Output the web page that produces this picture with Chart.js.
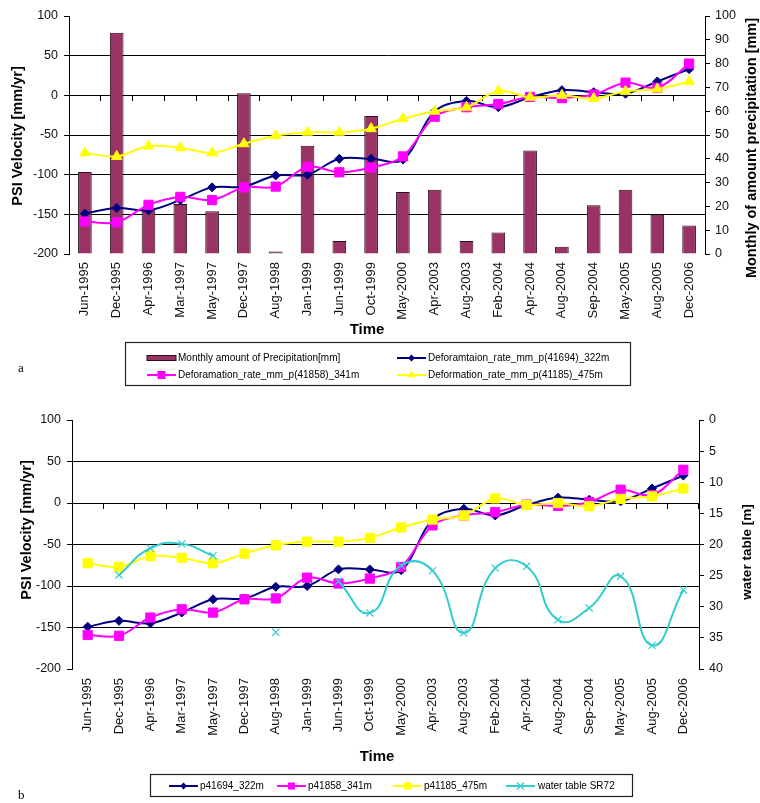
<!DOCTYPE html>
<html>
<head>
<meta charset="utf-8">
<script src="https://cdn.jsdelivr.net/npm/chart.js@4/dist/chart.umd.min.js"></script>
<style>
  html, body { margin: 0; padding: 0; background: #fff; }
  #wrap { position: relative; width: 760px; height: 803px; overflow: hidden; background: #fff; }
  canvas { position: absolute; left: 0; }
  #chartA { top: 0; }
  #chartB { top: 392px; }
</style>
</head>
<body>
<div id="wrap">
  <canvas id="chartA" width="760" height="392"></canvas>
  <canvas id="chartB" width="760" height="411"></canvas>
</div>
<script>
const categories = ['Jun-1995', 'Dec-1995', 'Apr-1996', 'Mar-1997', 'May-1997', 'Dec-1997', 'Aug-1998',
  'Jan-1999', 'Jun-1999', 'Oct-1999', 'May-2000', 'Apr-2003', 'Aug-2003', 'Feb-2004', 'Apr-2004',
  'Aug-2004', 'Sep-2004', 'May-2005', 'Aug-2005', 'Dec-2006'];

// monthly precipitation [mm] (right axis of a)
const precipitation = [34.5, 93, 19, 21, 18, 67.5, 1, 45.5, 5.5, 58, 26, 27, 5.5, 9, 43.5, 3, 20.5, 27, 16.5, 12];

// PSI velocities [mm/yr]
const p41694 = [-149, -142, -145, -132, -116, -115, -101, -100, -80, -80, -81, -20, -7, -15, -2.5, 6.5, 4, 2, 17.5, 33];
const p41858 = [-159, -160, -138, -128, -132, -116, -115, -90, -97, -91, -77, -27, -15, -11, -2, -3.5, 1, 16, 9.5, 40];
const p41185 = [-72.5, -77, -64, -66, -72.5, -61, -51, -46.5, -46.5, -42, -29.5, -20, -15, 5.5, -2.5, 0, -4, 5, 8, 17.5];

// water table SR72 [m] (right axis of b, reversed)
const waterTable = [null, 24.9, 20.6, 19.9, 21.8, null, 34.1, null, 25.9, 31.0, 23.4, 24.2, 34.2, 23.8, 23.5, 32.1, 30.2, 25.1, 36.2, 27.3];

const psiRange = [-200, 100, 50];
const precipRange = [0, 100, 10];
const waterRange = [0, 40, 5];

const FONT = "'Liberation Sans', Arial, sans-serif";
const NAVY = '#000080', PINK = '#FF00FF', YELLOW = '#FFFF00', CYAN = '#33CCCC', PLUM = '#993366';

function marker(ctx, style, x, y, r, color) {
  ctx.save();
  ctx.fillStyle = color;
  ctx.strokeStyle = color;
  ctx.beginPath();
  if (style === 'rectRot') {
    ctx.moveTo(x, y - r); ctx.lineTo(x + r, y); ctx.lineTo(x, y + r); ctx.lineTo(x - r, y);
    ctx.closePath(); ctx.fill();
  } else if (style === 'rect') {
    ctx.rect(x - r, y - r, 2 * r, 2 * r); ctx.fill();
  } else if (style === 'triangle') {
    ctx.moveTo(x, y - r); ctx.lineTo(x + r * 0.87, y + r * 0.5); ctx.lineTo(x - r * 0.87, y + r * 0.5);
    ctx.closePath(); ctx.fill();
  } else if (style === 'crossRot') {
    ctx.lineWidth = 1.2;
    ctx.moveTo(x - r, y - r); ctx.lineTo(x + r, y + r);
    ctx.moveTo(x + r, y - r); ctx.lineTo(x - r, y + r);
    ctx.stroke();
  }
  ctx.restore();
}

// titles, boxed legend and panel letter
const extras = {
  id: 'extras',
  afterDraw(chart, args, opts) {
    const ctx = chart.ctx;
    ctx.save();
    ctx.fillStyle = '#000';
    ctx.textAlign = 'center';
    ctx.textBaseline = 'middle';
    (opts.titles || []).forEach(t => {
      ctx.save();
      ctx.font = t.font;
      ctx.translate(t.x, t.y);
      if (t.rot) ctx.rotate(t.rot);
      ctx.fillText(t.text, 0, 0);
      ctx.restore();
    });
    const lg = opts.legend;
    if (lg) {
      ctx.strokeStyle = '#222';
      ctx.lineWidth = 1.2;
      ctx.strokeRect(lg.box[0], lg.box[1], lg.box[2], lg.box[3]);
      ctx.font = '10px ' + FONT;
      ctx.textAlign = 'left';
      lg.items.forEach(it => {
        const ds = chart.data.datasets[it.ds];
        if (ds.type === 'bar') {
          ctx.fillStyle = ds.backgroundColor;
          ctx.fillRect(it.x, it.y - 2.5, 29, 5);
          ctx.strokeStyle = ds.borderColor;
          ctx.lineWidth = 1;
          ctx.strokeRect(it.x, it.y - 2.5, 29, 5);
        } else {
          ctx.strokeStyle = ds.borderColor;
          ctx.lineWidth = 2;
          ctx.beginPath();
          ctx.moveTo(it.x, it.y);
          ctx.lineTo(it.x + 29, it.y);
          ctx.stroke();
          marker(ctx, ds.pointStyle, it.x + 14.5, it.y, it.r, ds.borderColor);
        }
        ctx.fillStyle = '#000';
        ctx.fillText(ds.label, it.tx, it.y + 0.5);
      });
    }
    if (opts.tag) {
      ctx.font = '13px "Liberation Serif", "Times New Roman", serif';
      ctx.textAlign = 'left';
      ctx.fillText(opts.tag.text, opts.tag.x, opts.tag.y);
    }
    ctx.restore();
  }
};

function hideEdges(ctx) {
  const v = ctx.tick && ctx.tick.value;
  return (v === psiRange[0] || v === psiRange[1]) ? 'rgba(0,0,0,0)' : '#000';
}

function buildScales(leftW, rightW, rightRange, rightReverse, labelPad) {
  const tickFont = { family: FONT, size: 12.5 };
  return {
    x: {
      type: 'category',
      position: 'bottom',
      offset: true,
      grid: { display: false },
      border: { display: false },
      ticks: { autoSkip: false, minRotation: 90, maxRotation: 90, padding: labelPad, color: '#111', font: { family: FONT, size: 13 } },
      afterFit: s => { s.height = 85; }
    },
    xz: {
      type: 'category',
      axis: 'x',
      position: { y: 0 },
      offset: true,
      grid: { display: true, drawOnChartArea: false, drawTicks: true, tickLength: 5, offset: true, color: '#000', tickColor: '#000' },
      border: { display: true, color: '#000', width: 1 },
      ticks: { display: false },
      afterFit: s => { s.height = 0; }
    },
    y: {
      type: 'linear',
      position: 'left',
      min: psiRange[0], max: psiRange[1],
      grid: { color: hideEdges, tickColor: '#000', tickLength: 5, lineWidth: 1 },
      border: { display: true, color: '#000', width: 1 },
      ticks: { stepSize: psiRange[2], padding: 6, color: '#111', font: tickFont },
      afterFit: s => { s.width = leftW; }
    },
    y2: {
      type: 'linear',
      position: 'right',
      min: rightRange[0], max: rightRange[1],
      reverse: rightReverse,
      grid: { drawOnChartArea: false, color: '#000', tickColor: '#000', tickLength: 5 },
      border: { display: true, color: '#000', width: 1 },
      ticks: { stepSize: rightRange[2], padding: 5, color: '#111', font: tickFont },
      afterFit: s => { s.width = rightW; }
    }
  };
}

function lineSet(label, data, color, style, radius, order, extra) {
  return Object.assign({
    type: 'line',
    label: label,
    data: data,
    xAxisID: 'x',
    yAxisID: 'y',
    borderColor: color,
    backgroundColor: color,
    borderWidth: 2,
    pointStyle: style,
    pointRadius: radius,
    pointBackgroundColor: color,
    pointBorderColor: color,
    pointBorderWidth: 1,
    tension: 0.35,
    fill: false,
    order: order
  }, extra || {});
}

const baseOptions = {
  responsive: false,
  animation: false,
  devicePixelRatio: 1,
  events: [],
  plugins: { legend: { display: false }, tooltip: { enabled: false } }
};

new Chart(document.getElementById('chartA'), {
  data: {
    labels: categories,
    datasets: [
      {
        type: 'bar',
        label: 'Monthly amount of Precipitation[mm]',
        data: precipitation,
        xAxisID: 'x',
        yAxisID: 'y2',
        backgroundColor: PLUM,
        borderColor: '#2a0f1e',
        borderWidth: 1,
        barPercentage: 0.43,
        categoryPercentage: 1,
        order: 4
      },
      lineSet('Deforamtaion_rate_mm_p(41694)_322m', p41694, NAVY, 'rectRot', 4.5, 3),
      lineSet('Deforamation_rate_mm_p(41858)_341m', p41858, PINK, 'rect', 6.5, 2),
      lineSet('Deformation_rate_mm_p(41185)_475m', p41185, YELLOW, 'triangle', 6, 1)
    ]
  },
  options: Object.assign({}, baseOptions, {
    layout: { padding: { top: 16, left: 0, right: 0, bottom: 53 } },
    scales: buildScales(69, 55, precipRange, false, 0),
    plugins: Object.assign({}, baseOptions.plugins, {
      extras: {
        titles: [
          { text: 'PSI Velocity [mm/yr]', x: 18, y: 136, rot: -Math.PI / 2, font: 'bold 14.5px ' + FONT },
          { text: 'Monthly of amount precipitation [mm]', x: 752, y: 148, rot: -Math.PI / 2, font: 'bold 14.5px ' + FONT },
          { text: 'Time', x: 367, y: 330, font: 'bold 15px ' + FONT }
        ],
        legend: {
          box: [125.5, 342.5, 505, 43],
          items: [
            { ds: 0, x: 147, y: 358, tx: 178 },
            { ds: 1, x: 397, y: 358, tx: 428, r: 3.5 },
            { ds: 2, x: 147, y: 375, tx: 178, r: 4 },
            { ds: 3, x: 397, y: 375, tx: 428, r: 4.5 }
          ]
        },
        tag: { text: 'a', x: 18, y: 369 }
      }
    })
  }),
  plugins: [extras]
});

new Chart(document.getElementById('chartB'), {
  data: {
    labels: categories,
    datasets: [
      lineSet('p41694_322m', p41694, NAVY, 'rectRot', 4.5, 4),
      lineSet('p41858_341m', p41858, PINK, 'rect', 6.5, 3),
      lineSet('p41185_475m', p41185, YELLOW, 'rect', 6.5, 2),
      lineSet('water table SR72', waterTable, CYAN, 'crossRot', 5, 1, {
        yAxisID: 'y2', tension: 0.5, spanGaps: false, pointBorderWidth: 1.2
      })
    ]
  },
  options: Object.assign({}, baseOptions, {
    layout: { padding: { top: 28, left: 0, right: 0, bottom: 49 } },
    scales: buildScales(72, 61, waterRange, true, 1),
    plugins: Object.assign({}, baseOptions.plugins, {
      extras: {
        titles: [
          { text: 'PSI Velocity [mm/yr]', x: 27, y: 138, rot: -Math.PI / 2, font: 'bold 14.5px ' + FONT },
          { text: 'water table [m]', x: 747, y: 160, rot: -Math.PI / 2, font: 'bold 13.5px ' + FONT },
          { text: 'Time', x: 377, y: 365, font: 'bold 15px ' + FONT }
        ],
        legend: {
          box: [150.5, 382.5, 482, 22],
          items: [
            { ds: 0, x: 169, y: 394, tx: 200, r: 3.5 },
            { ds: 1, x: 277, y: 394, tx: 308, r: 3.5 },
            { ds: 2, x: 393, y: 394, tx: 424, r: 3.5 },
            { ds: 3, x: 506, y: 394, tx: 538, r: 3.5 }
          ]
        },
        tag: { text: 'b', x: 18, y: 404 }
      }
    })
  }),
  plugins: [extras]
});
</script>
</body>
</html>
